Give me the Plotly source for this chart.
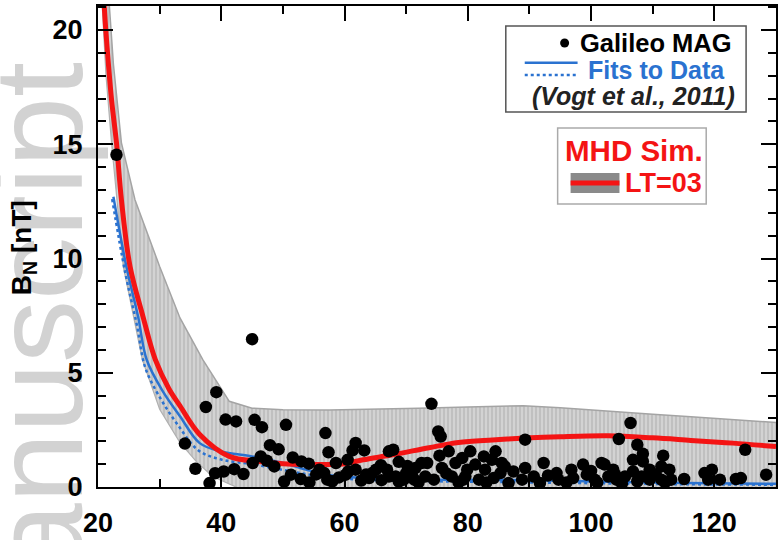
import plotly.graph_objects as go

# ---------------- data ----------------
obs_x = [23.0, 45.0, 34.1, 35.8, 37.5, 39.2, 38.1, 39.0, 40.4, 40.7, 42.4, 42.1, 43.6, 45.1, 45.4, 46.6,
         46.4, 47.4, 47.9, 49.3, 48.6, 50.5, 50.2, 51.3, 51.6, 52.9, 53.0, 54.2, 54.3, 55.4, 55.9, 56.9,
         57.4, 57.2, 56.7, 58.6, 59.1, 60.2, 60.6, 60.5, 61.3, 61.8, 61.8, 62.7, 63.2, 64.0, 64.5, 65.1,
         65.9, 67.2, 67.9, 66.9, 67.2, 68.8, 68.3, 68.8, 70.2, 69.6, 71.5, 71.0, 71.3, 72.5, 73.4, 73.1,
         74.1, 75.2, 75.6, 75.4, 76.9, 75.8, 74.5, 78.0, 79.1, 77.4, 79.3, 79.9, 80.4, 81.2, 79.6, 82.6,
         83.9, 84.5, 85.5, 82.8, 81.8, 84.2, 85.3, 86.6, 87.4, 89.3, 89.3, 88.8, 90.7, 92.3, 91.7, 94.4,
         94.7, 96.8, 97.1, 98.7, 99.3, 100.6, 101.7, 102.2, 102.8, 103.6, 104.1, 104.5, 106.4, 107.5,
         108.4, 108.4, 106.8, 111.7, 103.9, 105.5, 106.8, 108.2, 109.5, 109.5, 111.4, 112.7, 111.4,
         113.0, 115.1, 118.4, 119.6, 119.0, 120.9, 123.5, 124.3, 125.0, 128.4,
         58.0, 63.5, 66.0, 70.0, 72.0, 76.5, 78.5, 83.0, 86.0, 93.0, 96.0, 100.0, 101.0, 105.0, 107.5,
         110.5, 112.0]
obs_y = [14.54, 6.47, 1.9, 0.8, 3.5, 4.15, 0.17, 0.6, 0.68, 2.95, 2.87, 0.78, 0.57, 1.05, 2.94, 2.62,
         1.34, 1.15, 1.83, 1.65, 0.9, 2.72, 0.24, 0.54, 1.29, 0.35, 1.12, 1.02, 0.2, 0.55, 0.76, 2.36,
         1.52, 0.32, 0.61, 1.05, 0.42, 0.54, 0.68, 1.19, 1.6, 1.93, 0.76, 0.28, 1.6, 0.39, 0.61, 0.76,
         0.95, 1.56, 1.63, 0.76, 0.46, 1.1, 0.46, 0.24, 0.92, 0.32, 0.83, 0.46, 0.32, 1.05, 1.05, 0.46,
         3.64, 2.43, 2.21, 1.37, 1.56, 0.83, 0.32, 1.05, 1.27, 0.46, 0.32, 0.76, 1.56, 0.98, 0.46, 1.34,
         1.19, 1.56, 1.05, 0.76, 0.32, 0.39, 0.61, 0.17, 0.68, 2.07, 0.83, 0.32, 0.46, 1.05, 0.17, 0.61,
         0.32, 0.76, 0.39, 0.98, 0.54, 0.32, 1.05, 0.98, 0.46, 0.76, 0.32, 2.1, 2.8, 1.85,
         1.46, 1.12, 1.19, 1.37, 0.54, 0.46, 0.68, 0.46, 0.76, 0.32, 0.9, 0.76, 0.32,
         0.32, 0.35, 0.61, 0.76, 0.32, 0.32, 0.35, 0.39, 1.63, 0.54,
         0.25, 0.55, 0.3, 0.6, 0.2, 0.6, 0.2, 0.2, 0.9, 0.5, 0.2, 0.7, 0.2, 0.15, 0.25,
         0.55, 0.2]

mhd_x = [21.0, 21.3, 22.2, 23.0, 23.8, 25.2, 27.3, 29.3, 31.5, 33.3, 36.5, 41.3, 46.2, 50.0, 55.9,
         60.0, 63.0, 68.0, 73.7, 78.5, 84.0, 89.3, 95.0, 102.8, 110.0, 116.2, 123.0, 130.0]
mhd_y = [21.1, 19.87, 16.95, 15.06, 12.57, 9.65, 7.46, 5.57, 4.3, 3.55, 2.3, 1.34, 1.12, 1.02, 0.98,
         1.02, 1.19, 1.42, 1.72, 1.95, 2.06, 2.14, 2.2, 2.24, 2.15, 2.04, 1.92, 1.77]

band_up_x = [21.6, 22.5, 23.8, 26.0, 30.0, 33.3, 37.0, 41.3, 45.0, 50.0, 57.5, 65.0, 72.0, 80.0,
             89.0, 95.0, 102.8, 110.0, 116.2, 123.0, 130.0]
band_up_y = [22.0, 18.5, 15.06, 12.57, 9.65, 7.4, 5.57, 3.75, 3.45, 3.38, 3.37, 3.4, 3.45, 3.5,
             3.56, 3.47, 3.31, 3.18, 3.07, 2.95, 2.82]
band_lo_x = [20.5, 21.3, 22.2, 24.1, 27.2, 30.0, 33.3, 36.0, 38.6, 42.4, 46.0, 130.0]
band_lo_y = [22.0, 18.0, 15.06, 9.65, 5.57, 3.4, 1.94, 1.1, 0.46, 0.0, -0.8, -0.8]

fit_x = [22.5, 24.6, 26.5, 27.9, 30.5, 33.3, 36.5, 40.0, 45.0, 50.0, 53.7, 58.0, 65.0, 75.0, 90.0,
         105.0, 115.0, 130.0]
fit_y = [12.7, 9.65, 7.46, 5.57, 4.2, 3.1, 1.92, 1.55, 1.34, 1.05, 0.76, 0.5, 0.38, 0.32, 0.3,
         0.22, 0.17, 0.14]
fit2_x = [22.3, 24.4, 26.3, 27.7, 30.3, 33.0, 36.3, 40.0, 45.0, 50.0, 54.0, 58.0, 65.0, 75.0, 90.0,
          105.0, 115.0, 130.0]
fit2_y = [12.6, 9.4, 7.1, 5.2, 3.8, 2.7, 1.6, 1.2, 1.0, 0.75, 0.55, 0.4, 0.3, 0.25, 0.2, 0.15,
          0.12, 0.1]

x_ticks = [20, 40, 60, 80, 100, 120]
y_ticks = [0, 5, 10, 15, 20]

RED = "#f41414"
BLUE = "#2a72d0"

W, H = 779, 540
L, R, T, B = 98, 1, 6, 53
PW, PH = W - L - R, H - T - B


def px(xp):
    return (xp - L) / PW


def py(yp):
    return (H - B - yp) / PH


fig = go.Figure()

# MHD band (lower edge then upper with fill)
fig.add_trace(go.Scatter(x=band_lo_x, y=band_lo_y, mode="lines",
                         line=dict(color="#b0b0b0", width=1.2), showlegend=False))
fig.add_trace(go.Scatter(x=band_up_x, y=band_up_y, mode="lines",
                         line=dict(color="#a4a4a4", width=1.5), fill="tonexty",
                         fillcolor="#cccccc",
                         fillpattern=dict(shape="|", fgcolor="#bcbcbc", bgcolor="#d3d3d3",
                                          size=4, solidity=0.4, fillmode="replace"),
                         showlegend=False))
# fits
fig.add_trace(go.Scatter(x=fit2_x, y=fit2_y, mode="lines", line=dict(color=BLUE, width=2.5, dash="dot"),
                         line_shape="spline", showlegend=False))
fig.add_trace(go.Scatter(x=fit_x, y=fit_y, mode="lines", line=dict(color=BLUE, width=2.5),
                         line_shape="spline", showlegend=False))
# MHD mean
fig.add_trace(go.Scatter(x=mhd_x, y=mhd_y, mode="lines", line=dict(color=RED, width=5),
                         line_shape="spline", showlegend=False))
# observations
fig.add_trace(go.Scatter(x=obs_x, y=obs_y, mode="markers",
                         marker=dict(color="black", size=12.5, line=dict(width=0)),
                         cliponaxis=True, showlegend=False))

tickfont = dict(family="Liberation Sans", size=27, color="black", weight="bold")
fig.update_xaxes(range=[20, 130], tickvals=x_ticks, ticktext=[str(v) for v in x_ticks],
                 ticks="inside", ticklen=15, tickwidth=1.5, tickcolor="black",
                 minor=dict(dtick=10, tick0=0, ticks="inside", ticklen=8, tickwidth=1.5, tickcolor="black"),
                 showline=True, linecolor="black", linewidth=2, mirror="ticks",
                 showgrid=False, zeroline=False, tickfont=tickfont, ticklabelstandoff=11)
fig.update_yaxes(range=[0, 21.05], tickvals=y_ticks, ticktext=[str(v) for v in y_ticks],
                 ticks="inside", ticklen=15, tickwidth=1.5, tickcolor="black",
                 minor=dict(dtick=1, tick0=0, ticks="inside", ticklen=8, tickwidth=1.5, tickcolor="black"),
                 showline=True, linecolor="black", linewidth=2, mirror="ticks",
                 showgrid=False, zeroline=False, tickfont=tickfont, ticklabelstandoff=8)

shapes = [
    # watermark (below everything)
    dict(type="rect", xref="paper", yref="paper", x0=px(-44), x1=px(96), y0=py(700), y1=py(40),
         line=dict(width=0), fillcolor="rgba(0,0,0,0)", layer="below",
         label=dict(text="manuscript", textangle=-90, textposition="middle center",
                    font=dict(family="Liberation Sans", size=126, color="#d2d2d2"))),
    # legend box 1
    dict(type="rect", xref="paper", yref="paper", x0=px(507), x1=px(748), y0=py(112), y1=py(26),
         line=dict(color="#555555", width=1.5), fillcolor="white", layer="above"),
    dict(type="circle", xref="paper", yref="paper", x0=px(561.5), x1=px(570.5), y0=py(47.5), y1=py(38.5),
         line=dict(width=0), fillcolor="black", layer="above"),
    dict(type="line", xref="paper", yref="paper", x0=px(526), x1=px(579), y0=py(62.7), y1=py(62.7),
         line=dict(color=BLUE, width=2.5), layer="above"),
    dict(type="line", xref="paper", yref="paper", x0=px(526), x1=px(579), y0=py(75), y1=py(75),
         line=dict(color=BLUE, width=2.5, dash="dot"), layer="above"),
    # legend box 2
    dict(type="rect", xref="paper", yref="paper", x0=px(559), x1=px(708), y0=py(204), y1=py(128),
         line=dict(color="#aaaaaa", width=1.5), fillcolor="white", layer="above"),
    dict(type="rect", xref="paper", yref="paper", x0=px(572), x1=px(621), y0=py(193), y1=py(173),
         line=dict(width=0), fillcolor="#8a8a8a", layer="above"),
    dict(type="rect", xref="paper", yref="paper", x0=px(572), x1=px(621), y0=py(185.5), y1=py(180.5),
         line=dict(width=0), fillcolor=RED, layer="above"),
]

bold = dict(family="Liberation Sans", weight="bold")
annotations = [
    dict(text="B<sub>N</sub> [nT]", xref="paper", yref="paper", x=px(24), y=py(248), textangle=-90,
         xanchor="center", yanchor="middle",
         showarrow=False, font=dict(size=28, color="black", **bold)),
    dict(text="Galileo MAG", xref="paper", yref="paper", x=px(736), y=py(43), xanchor="right",
         yanchor="middle", showarrow=False, font=dict(size=25.5, color="black", **bold)),
    dict(text="Fits to Data", xref="paper", yref="paper", x=px(729), y=py(70), xanchor="right",
         yanchor="middle", showarrow=False, font=dict(size=25, color=BLUE, **bold)),
    dict(text="(Vogt et al., 2011)", xref="paper", yref="paper", x=px(739), y=py(96), xanchor="right",
         yanchor="middle", showarrow=False,
         font=dict(size=25, color="#222222", style="italic", **bold)),
    dict(text="MHD Sim.", xref="paper", yref="paper", x=px(636), y=py(151), xanchor="center",
         yanchor="middle", showarrow=False, font=dict(size=29.5, color=RED, **bold)),
    dict(text="LT=03", xref="paper", yref="paper", x=px(625), y=py(183), xanchor="left",
         yanchor="middle", showarrow=False, font=dict(size=27, color=RED, **bold)),
]

fig.update_layout(width=W, height=H, margin=dict(l=L, r=R, t=T, b=B, pad=0),
                  paper_bgcolor="white", plot_bgcolor="white", showlegend=False,
                  shapes=shapes, annotations=annotations)

fig.write_html("out.html")
